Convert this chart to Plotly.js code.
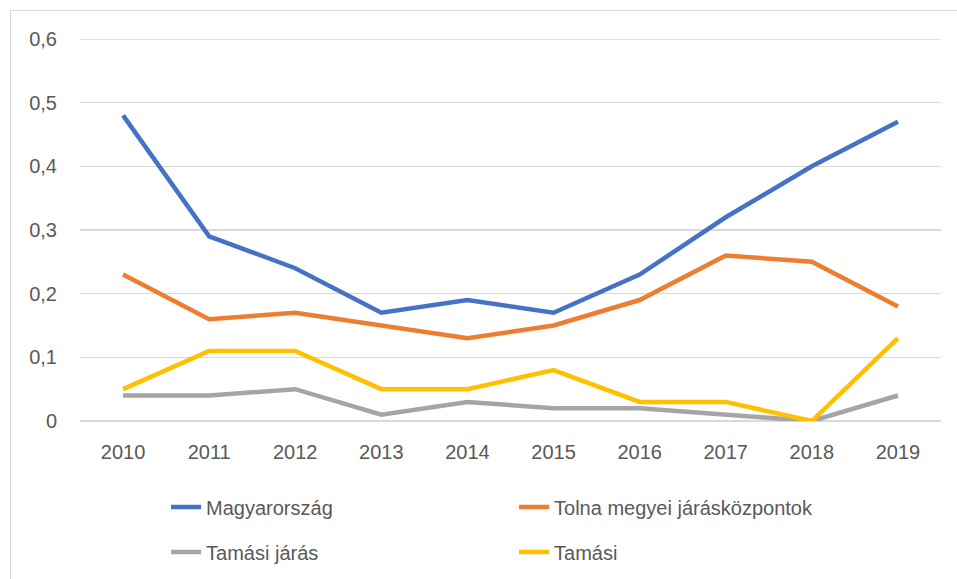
<!DOCTYPE html>
<html>
<head>
<meta charset="utf-8">
<script src="https://cdn.plot.ly/plotly-3.0.1.min.js"></script>
<style>
html,body{margin:0;padding:0;background:#fff;}
#chart{width:957px;height:579px;position:absolute;left:0;top:0;}
#frame{position:absolute;left:10px;top:10px;width:960px;height:580px;border:1.5px solid #d9d9d9;pointer-events:none;}
</style>
</head>
<body>
<div id="chart"></div>
<div id="frame"></div>
<script>
const years = ['2010','2011','2012','2013','2014','2015','2016','2017','2018','2019'];
const magyarorszag = [0.48, 0.29, 0.24, 0.17, 0.19, 0.17, 0.23, 0.32, 0.40, 0.47];
const tolna = [0.23, 0.16, 0.17, 0.15, 0.13, 0.15, 0.19, 0.26, 0.25, 0.18];
const tamasiJaras = [0.04, 0.04, 0.05, 0.01, 0.03, 0.02, 0.02, 0.01, 0.00, 0.04];
const tamasi = [0.05, 0.11, 0.11, 0.05, 0.05, 0.08, 0.03, 0.03, 0.00, 0.13];
const seriesNames = ['Magyarország', 'Tolna megyei járásközpontok', 'Tamási járás', 'Tamási'];

const font = 'Liberation Sans, Arial, sans-serif';
const colors = ['#4472C4', '#ED7D31', '#A5A5A5', '#FFC000'];
const values = [magyarorszag, tolna, tamasiJaras, tamasi];
const legends = ['legend', 'legend', 'legend2', 'legend2'];

const traces = values.map((v, i) => ({
  type: 'scatter', mode: 'lines', x: years, y: v, name: seriesNames[i],
  line: {color: colors[i], width: 4.5},
  legend: legends[i], hoverinfo: 'skip'
}));

const legendCommon = {
  orientation: 'h', xanchor: 'left', yanchor: 'middle',
  xref: 'container', yref: 'container',
  font: {family: font, size: 20, color: '#595959'},
  entrywidth: 303, entrywidthmode: 'pixels', bgcolor: 'rgba(0,0,0,0)'
};

const layout = {
  width: 957, height: 579,
  margin: {l: 80, r: 16, t: 39, b: 158},
  paper_bgcolor: '#fff', plot_bgcolor: '#fff',
  separators: ', ',
  font: {family: font, size: 20, color: '#595959'},
  showlegend: true,
  xaxis: {
    type: 'category', range: [-0.5, years.length - 0.5],
    showgrid: false, zeroline: false, showline: false,
    ticks: '', ticklabelstandoff: 17,
    tickfont: {family: font, size: 20, color: '#595959'}
  },
  yaxis: {
    range: [0, 0.6], dtick: 0.1, tick0: 0, showgrid: true, gridcolor: '#d9d9d9', gridwidth: 1.5,
    zeroline: true, zerolinecolor: '#d9d9d9', zerolinewidth: 1.5, showline: false,
    ticks: '', ticklabelstandoff: 22,
    tickfont: {family: font, size: 20, color: '#595959'}
  },
  shapes: [{type: 'line', xref: 'paper', yref: 'y', x0: 0, x1: 1, y0: 0.6, y1: 0.6,
            line: {color: '#d9d9d9', width: 1.5}, layer: 'below'}],
  legend: Object.assign({}, legendCommon, {x: 0.1735, y: 0.1244}),
  legend2: Object.assign({}, legendCommon, {x: 0.1735, y: 0.0466})
};

Plotly.newPlot('chart', traces, layout, {displayModeBar: false, staticPlot: true});
</script>
</body>
</html>
